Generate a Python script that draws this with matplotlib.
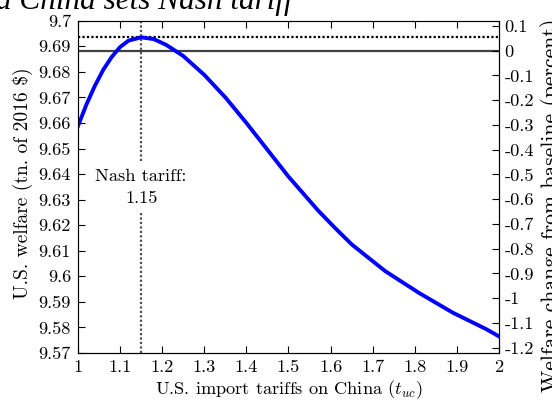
import numpy as np
import matplotlib
matplotlib.use("Agg")
import matplotlib.pyplot as plt

plt.rcParams["font.family"] = ["cmr10", "DejaVu Serif"]
plt.rcParams["mathtext.fontset"] = "cm"
plt.rcParams["axes.unicode_minus"] = False
plt.rcParams["axes.formatter.use_mathtext"] = True

# Tarif USA na Chiny i dobrobyt USA (bln USD z 2016)
tariff = [1.00, 1.02, 1.04, 1.06, 1.08, 1.10, 1.12, 1.15, 1.18, 1.21, 1.25,
          1.30, 1.35, 1.40, 1.45, 1.50, 1.57, 1.61, 1.65, 1.73, 1.81, 1.89,
          1.97, 2.00]
welfare = [9.6588, 9.6672, 9.6745, 9.6808, 9.6858, 9.6897, 9.6922, 9.6935,
           9.6928, 9.6905, 9.6862, 9.6788, 9.6700, 9.6600, 9.6495, 9.6390,
           9.6258, 9.6190, 9.6125, 9.6020, 9.5935, 9.5858, 9.5793, 9.5765]

baseline = 9.6883
nash_tariff = 1.15
nash_welfare = 9.6935

xticks = [1, 1.1, 1.2, 1.3, 1.4, 1.5, 1.6, 1.7, 1.8, 1.9, 2]
xtick_labels = ["1", "1.1", "1.2", "1.3", "1.4", "1.5", "1.6", "1.7", "1.8", "1.9", "2"]
yticks = [9.57, 9.58, 9.59, 9.60, 9.61, 9.62, 9.63, 9.64, 9.65, 9.66, 9.67, 9.68, 9.69, 9.70]
ytick_labels = ["9.57", "9.58", "9.59", "9.6", "9.61", "9.62", "9.63", "9.64",
                "9.65", "9.66", "9.67", "9.68", "9.69", "9.7"]
rticks = [0.1, 0, -0.1, -0.2, -0.3, -0.4, -0.5, -0.6, -0.7, -0.8, -0.9, -1, -1.1, -1.2]
rtick_labels = ["0.1", "0", "-0.1", "-0.2", "-0.3", "-0.4", "-0.5", "-0.6",
                "-0.7", "-0.8", "-0.9", "-1", "-1.1", "-1.2"]

fs = 13.2
fig = plt.figure(figsize=(5.52, 4.04), dpi=100)
ax = fig.add_axes([78 / 552, 51 / 404, 421 / 552, 332.3 / 404])

ax.axhline(baseline, color="#404040", linewidth=1.6)
ax.axhline(nash_welfare, color="black", linewidth=1.6, linestyle=(0, (1, 1)))
ax.plot([nash_tariff, nash_tariff], [9.70, 9.6443], color="#505050",
        linewidth=1.6, linestyle=(0, (1, 1)))
ax.plot([nash_tariff, nash_tariff], [9.6248, 9.57], color="#505050",
        linewidth=1.6, linestyle=(0, (1, 1)))
ax.plot(tariff, welfare, color="#0000ff", linewidth=2.8)

ax.text(nash_tariff, 9.6391, "Nash tariff:", ha="center", va="center", fontsize=fs)
ax.text(nash_tariff, 9.6306, "1.15", ha="center", va="center", fontsize=fs)

ax.set_xlim(1, 2)
ax.set_ylim(9.57, 9.70)
ax.set_xticks(xticks)
ax.set_xticklabels(xtick_labels, fontsize=fs)
ax.set_yticks(yticks)
ax.set_yticklabels(ytick_labels, fontsize=fs)
ax.tick_params(axis="y", direction="in", length=5, width=0.8, right=False, pad=5)
ax.tick_params(axis="x", direction="in", length=5, width=0.8, top=True, pad=5)
ax.set_xlabel("U.S. import tariffs on China ($t_{uc}$)", fontsize=fs, labelpad=2)
ax.set_ylabel("U.S. welfare (tn. of 2016 \\$)", fontsize=14)
ax.yaxis.set_label_coords(-0.107, 0.51)
for s in ax.spines.values():
    s.set_linewidth(0.8)
ax.spines["top"].set_color("#404040")
ax.spines["left"].set_color("#404040")

# prawa oś: zmiana procentowa względem poziomu bazowego
ax2 = ax.twinx()
ax2.set_ylim((9.57 / baseline - 1) * 100, (9.70 / baseline - 1) * 100)
ax2.set_yticks(rticks)
ax2.set_yticklabels(rtick_labels, fontsize=fs)
ax2.tick_params(direction="in", length=5, width=0.8, pad=4)
ax2.set_ylabel("Welfare change from baseline (percent)", fontsize=15.6,
               rotation=90)
ax2.yaxis.set_label_coords(1.098, 0.445)

fig.text(293 / 552, 1 - 8.5 / 404, "If U.S. sets tariffs and China sets Nash tariff",
         ha="right", va="baseline", fontsize=22.5, fontstyle="italic",
         family="Liberation Serif")

fig.savefig("out.png", dpi=100)
